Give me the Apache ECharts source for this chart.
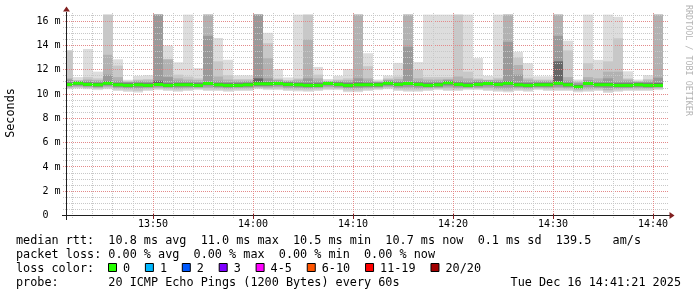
<!DOCTYPE html>
<html><head><meta charset="utf-8">
<script src="https://cdn.jsdelivr.net/npm/echarts@6/dist/echarts.min.js"></script>
<style>html,body{margin:0;padding:0;background:#fff}#c{width:697px;height:297px}</style>
</head><body><div id="c"></div>
<script>
// ---------- data ----------
const binStart = ['13:41','13:42','13:43','13:44','13:45','13:46','13:47','13:48','13:49','13:50',
  '13:51','13:52','13:53','13:54','13:55','13:56','13:57','13:58','13:59','14:00',
  '14:01','14:02','14:03','14:04','14:05','14:06','14:07','14:08','14:09','14:10',
  '14:11','14:12','14:13','14:14','14:15','14:16','14:17','14:18','14:19','14:20',
  '14:21','14:22','14:23','14:24','14:25','14:26','14:27','14:28','14:29','14:30',
  '14:31','14:32','14:33','14:34','14:35','14:36','14:37','14:38','14:39','14:40'];
// median rtt (ms)
const median = [10.79,10.9,10.8,10.77,10.9,10.77,10.72,10.77,10.72,10.79,
  10.72,10.77,10.77,10.72,10.88,10.77,10.72,10.72,10.77,10.85,
  10.85,10.88,10.8,10.77,10.72,10.72,10.88,10.8,10.72,10.77,
  10.77,10.77,10.9,10.8,10.88,10.8,10.72,10.77,10.93,10.8,
  10.72,10.8,10.88,10.8,10.9,10.77,10.72,10.77,10.77,10.9,
  10.77,10.6,10.88,10.77,10.77,10.72,10.72,10.77,10.72,10.72];
// smoke: upper ends of the ping bands, outermost (hi1) to innermost (hi5); 17 = above the scale
const hi1 = [13.6,11.4,13.72,11.85,17,12.87,11.18,11.5,11.56,17,
  14.0,12.62,17,12.14,17,14.62,12.83,11.54,11.54,17,
  15.05,12.06,11.37,17,17,12.24,11.25,11.5,12.06,17,
  13.37,11.2,11.52,12.57,17,12.64,17,17,17,17,
  17,12.97,11.5,17,17,13.48,12.55,11.47,11.47,17,
  14.4,11.2,17,12.82,17,16.37,11.88,11.2,11.56,17];
const hi2 = [13.6,11.15,11.4,11.3,17,12.35,11.05,11.2,11.25,17,
  12.9,11.6,11.45,11.3,17,12.7,11.55,11.25,11.25,17,
  14.2,11.3,11.15,11.3,17,11.6,11.1,11.2,11.3,17,
  12.3,11.05,11.3,11.45,17,12.0,11.4,11.4,11.4,17,
  11.85,11.3,11.2,11.35,17,13.0,11.35,11.2,11.2,17,
  13.6,11.05,12.55,12.0,12.7,14.6,11.3,11.05,11.25,17];
const hi3 = [11.3,11.12,11.2,11.15,13.24,11.4,11.02,11.12,11.12,17,
  12.85,11.3,11.2,11.15,17,11.45,11.2,11.12,11.12,17,
  12.95,11.2,11.1,11.2,14.5,11.3,11.05,11.12,11.15,17,
  11.3,11.02,11.2,11.25,17,11.3,11.2,11.2,11.25,11.45,
  11.3,11.2,11.15,11.2,17,12.4,11.2,11.12,11.12,17,
  11.4,10.98,11.4,11.3,11.85,11.85,11.2,11.02,11.12,17];
const hi4 = [11.2,11.08,11.1,11.05,11.6,11.1,11.0,11.05,11.0,17,
  11.4,11.1,11.05,11.0,14.8,11.1,11.0,11.02,11.05,17,
  11.3,11.12,11.05,11.05,11.3,11.05,11.05,11.05,11.02,11.3,
  11.1,11.0,11.12,11.08,13.9,11.08,11.05,11.05,11.15,11.1,
  11.05,11.1,11.12,11.1,14.3,11.6,11.02,11.05,11.05,14.8,
  11.1,10.9,11.15,11.05,11.3,11.05,11.05,11.02,11.02,11.35];
const hi5 = [10.95,11.02,10.95,10.92,11.05,10.92,10.88,10.92,10.88,11.1,
  10.88,10.92,10.92,10.88,11.0,10.92,10.88,10.88,10.92,11.3,
  11.0,11.0,10.95,10.92,10.88,10.88,11.0,10.95,10.88,10.95,
  10.92,10.92,11.02,10.95,11.0,10.95,10.88,10.92,11.05,10.95,
  10.88,10.95,11.0,10.95,11.05,10.92,10.88,10.92,10.92,12.7,
  10.92,10.75,11.0,10.92,10.92,10.88,10.88,10.92,10.88,10.9];
// smoke: lower ends, outermost (lo1) to innermost (lo5)
const lo1 = [10.4,10.45,10.4,10.33,10.4,10.26,10.19,10.13,10.26,10.33,
  10.26,10.2,10.26,10.33,10.26,10.26,10.2,10.26,10.26,10.4,
  10.33,10.33,10.26,10.23,10.2,10.26,10.33,10.33,10.16,10.16,
  10.26,10.33,10.4,10.26,10.2,10.2,10.26,10.33,10.26,10.26,
  10.33,10.33,10.26,10.2,10.15,10.26,10.2,10.33,10.26,10.26,
  10.26,10.15,10.2,10.26,10.1,10.2,10.26,10.26,10.26,10.33];
const lo2 = [10.48,10.52,10.48,10.42,10.48,10.36,10.3,10.25,10.36,10.42,
  10.36,10.3,10.36,10.42,10.36,10.36,10.3,10.36,10.36,10.48,
  10.42,10.42,10.36,10.33,10.3,10.36,10.42,10.42,10.28,10.28,
  10.36,10.42,10.48,10.36,10.3,10.3,10.36,10.42,10.36,10.36,
  10.42,10.42,10.36,10.3,10.26,10.36,10.3,10.42,10.36,10.36,
  10.36,10.26,10.3,10.36,10.22,10.3,10.36,10.36,10.36,10.42];
const lo3 = [10.55,10.6,10.55,10.5,10.58,10.46,10.42,10.4,10.46,10.5,
  10.46,10.42,10.46,10.5,10.5,10.46,10.42,10.46,10.46,10.55,
  10.52,10.55,10.46,10.45,10.42,10.46,10.55,10.5,10.4,10.4,
  10.46,10.5,10.58,10.46,10.45,10.42,10.46,10.5,10.52,10.46,
  10.5,10.5,10.5,10.42,10.4,10.46,10.42,10.5,10.46,10.5,
  10.46,10.36,10.42,10.46,10.35,10.42,10.46,10.46,10.46,10.5];
const lo4 = [10.62,10.68,10.62,10.58,10.68,10.56,10.52,10.52,10.55,10.6,
  10.55,10.55,10.56,10.56,10.62,10.56,10.52,10.55,10.56,10.62,
  10.62,10.64,10.56,10.55,10.52,10.55,10.64,10.58,10.5,10.52,
  10.56,10.58,10.66,10.56,10.6,10.55,10.55,10.56,10.64,10.56,
  10.55,10.56,10.62,10.55,10.55,10.56,10.52,10.58,10.56,10.6,
  10.56,10.45,10.58,10.55,10.5,10.52,10.52,10.56,10.52,10.58];
const lo5 = [10.68,10.78,10.68,10.65,10.78,10.65,10.6,10.65,10.6,10.68,
  10.6,10.65,10.65,10.6,10.76,10.65,10.6,10.6,10.65,10.72,
  10.72,10.76,10.68,10.65,10.6,10.6,10.76,10.68,10.6,10.65,
  10.65,10.65,10.78,10.68,10.76,10.68,10.6,10.65,10.8,10.68,
  10.6,10.68,10.76,10.68,10.78,10.65,10.6,10.65,10.65,10.78,
  10.65,10.5,10.76,10.65,10.65,10.6,10.6,10.65,10.6,10.6];

const xTickLabels = ['13:50','14:00','14:10','14:20','14:30','14:40'];
const yTickValues = [0,2,4,6,8,10,12,14,16];
const lossLabels = ['0','1','2','3','4-5','6-10','11-19','20/20'];
const lossColors = ['#26ff00','#00b8ff','#0059ff','#7e00ff','#ff00ff','#ff5500','#ff0000','#a10000'];
const legendRows = [
  'median rtt:  10.8 ms avg  11.0 ms max  10.5 ms min  10.7 ms now  0.1 ms sd  139.5   am/s',
  'packet loss: 0.00 % avg  0.00 % max  0.00 % min  0.00 % now',
  'loss color:',
  'probe:       20 ICMP Echo Pings (1200 Bytes) every 60s'
];
const stampText = 'Tue Dec 16 14:41:21 2025';
const yTitle = 'Seconds';
const watermark = 'RRDTOOL / TOBI OETIKER';

// ---------- chart ----------
const FONT = 'DejaVu Sans Mono';
function toMin(s){ const p = s.split(':').map(Number); return (p[0]-13)*60 + p[1]; }
const X_MIN = toMin('13:41') + 21/60, X_MAX = X_MIN + 60, Y_MAX = 16.55;
const layerColors = ['#dddddd','#c8c8c8','#b2b2b2','#9a9a9a','#666666'];
const seriesData = binStart.map((t,i)=>[toMin(t), lo1[i],lo2[i],lo3[i],lo4[i],lo5[i], hi1[i],hi2[i],hi3[i],hi4[i],hi5[i], median[i]]);

const chart = echarts.init(document.getElementById('c'), null, {renderer:'canvas', width:697, height:297});

function renderItem(params, api){
  const cs = params.coordSys;
  const box = {x:cs.x, y:cs.y, width:cs.width, height:cs.height};
  const t = api.value(0);
  const x0 = Math.max(t, X_MIN), x1 = t + 1;
  const children = [];
  for (let L = 0; L < 5; L++){
    const lo = api.value(1+L), hi = api.value(6+L);
    const a = api.coord([x0, hi]), b = api.coord([x1, lo]);
    const r = echarts.graphic.clipRectByRect({x:a[0], y:a[1], width:b[0]-a[0], height:b[1]-a[1]}, box);
    if (r) children.push({type:'rect', shape:r, style:{fill:layerColors[L]}});
  }
  const m = api.coord([x0, api.value(11)]);
  const e = api.coord([x1, api.value(11)]);
  children.push({type:'rect', shape:{x:m[0], y:m[1]-1.5, width:e[0]-m[0], height:3}, style:{fill:lossColors[0]}});
  return {type:'group', children};
}

chart.setOption({
  animation:false,
  backgroundColor:'#ffffff',
  grid:{left:66.5, top:14.6, width:600, height:200.9},
  xAxis:{type:'value', min:X_MIN, max:X_MAX, show:false},
  yAxis:{type:'value', min:0, max:Y_MAX, show:false},
  series:[{type:'custom', renderItem, data:seriesData,
    dimensions:['t','lo1','lo2','lo3','lo4','lo5','hi1','hi2','hi3','hi4','hi5','med'],
    encode:{x:0, y:[1,6,11]}, z:2}]
});

// ---------- grid, axes and texts placed through the axis scales ----------
const px = v => chart.convertToPixel({gridIndex:0}, [v, 0])[0];
const py = v => chart.convertToPixel({gridIndex:0}, [X_MIN, v])[1];
const crisp = v => Math.round(v - 0.5) + 0.5;
const g = [];
const xL = px(X_MIN), xR = px(X_MAX), yB = py(0), yT = py(Y_MAX);
const MINOR = '#c8c8c8', MAJOR = '#e38a8a';
// horizontal grid every 0.5 ms
for (let k = 1; k <= 33; k++){
  const v = k*0.5; const y = crisp(py(v));
  const major = (k % 4 === 0);
  g.push({type:'line', z:50, shape:{x1:Math.floor(xL)-3, y1:y, x2:Math.round(xR)+2, y2:y},
    style:{stroke: major?MAJOR:MINOR, lineWidth:1, lineDash:[1,1]}});
}
// vertical grid every 2 min
for (let mnt = 42; mnt <= 100; mnt += 2){
  const x = crisp(px(mnt)); const major = (mnt % 10 === 0);
  g.push({type:'line', z:50, shape:{x1:x, y1:Math.round(yB)+2, x2:x, y2:Math.round(yT)-2},
    style:{stroke: major?MAJOR:MINOR, lineWidth:1, lineDash:[1,1]}});
}
// axes
g.push({type:'line', z:60, shape:{x1:Math.floor(xL)-4, y1:crisp(yB), x2:Math.round(xR)+4, y2:crisp(yB)}, style:{stroke:'#1f1f1f', lineWidth:1}});
g.push({type:'line', z:60, shape:{x1:crisp(xL), y1:Math.round(yB)+4, x2:crisp(xL), y2:Math.round(yT)-3}, style:{stroke:'#1f1f1f', lineWidth:1}});
g.push({type:'polygon', z:61, shape:{points:[[xR+3,crisp(yB)-3.5],[xR+8,crisp(yB)],[xR+3,crisp(yB)+3.5]]}, style:{fill:'#801f1f'}});
g.push({type:'polygon', z:61, shape:{points:[[crisp(xL)-3.5,yT-3],[crisp(xL),yT-8],[crisp(xL)+3.5,yT-3]]}, style:{fill:'#801f1f'}});
// x tick labels
xTickLabels.forEach(s=>{
  const x = px(toMin(s));
  g.push({type:'line', z:60, shape:{x1:crisp(x), y1:Math.round(yB)-2, x2:crisp(x), y2:Math.round(yB)+3}, style:{stroke:'#801f1f', lineWidth:1}});
  g.push({type:'text', z:60, x:x, y:224.5, style:{text:s, font:'10px "'+FONT+'"', fill:'#000', align:'center', verticalAlign:'middle'}});
});
// y tick labels
yTickValues.forEach(v=>{
  const y = py(v);
  g.push({type:'text', z:60, x:60.5, y:y, style:{text: v===0 ? '0  ' : v+' m', font:'10px "'+FONT+'"', fill:'#000', align:'right', verticalAlign:'middle'}});
});
// y title and watermark
g.push({type:'text', z:60, x:11, y:113, rotation:Math.PI/2, style:{text:yTitle, font:'11.8px "'+FONT+'"', fill:'#000', align:'center', verticalAlign:'middle'}});
g.push({type:'text', z:60, x:688, y:5, rotation:-Math.PI/2, style:{text:watermark, font:'8.4px "'+FONT+'"', fill:'#b4b4b4', align:'left', verticalAlign:'middle'}});
// legend
const LF = '11.8px "'+FONT+'"', CW = 7.13;
const rowY = [240.5, 254.5, 268.5, 282.5];
legendRows.forEach((s,i)=>{
  g.push({type:'text', z:60, x:16, y:rowY[i], style:{text:s, font:LF, fill:'#000', align:'left', verticalAlign:'middle'}});
});
let bx = 108.5;
lossLabels.forEach((s,i)=>{
  g.push({type:'rect', z:60, shape:{x:bx, y:263.5, width:8, height:8}, style:{fill:lossColors[i], stroke:'#000', lineWidth:1}});
  g.push({type:'text', z:60, x:bx+14.5, y:rowY[2], style:{text:s, font:LF, fill:'#000', align:'left', verticalAlign:'middle'}});
  bx += 36.9 + (s.length-1)*CW;
});
g.push({type:'text', z:60, x:681, y:rowY[3], style:{text:stampText, font:LF, fill:'#000', align:'right', verticalAlign:'middle'}});

chart.setOption({graphic:{elements:g}});
</script>
</body></html>
